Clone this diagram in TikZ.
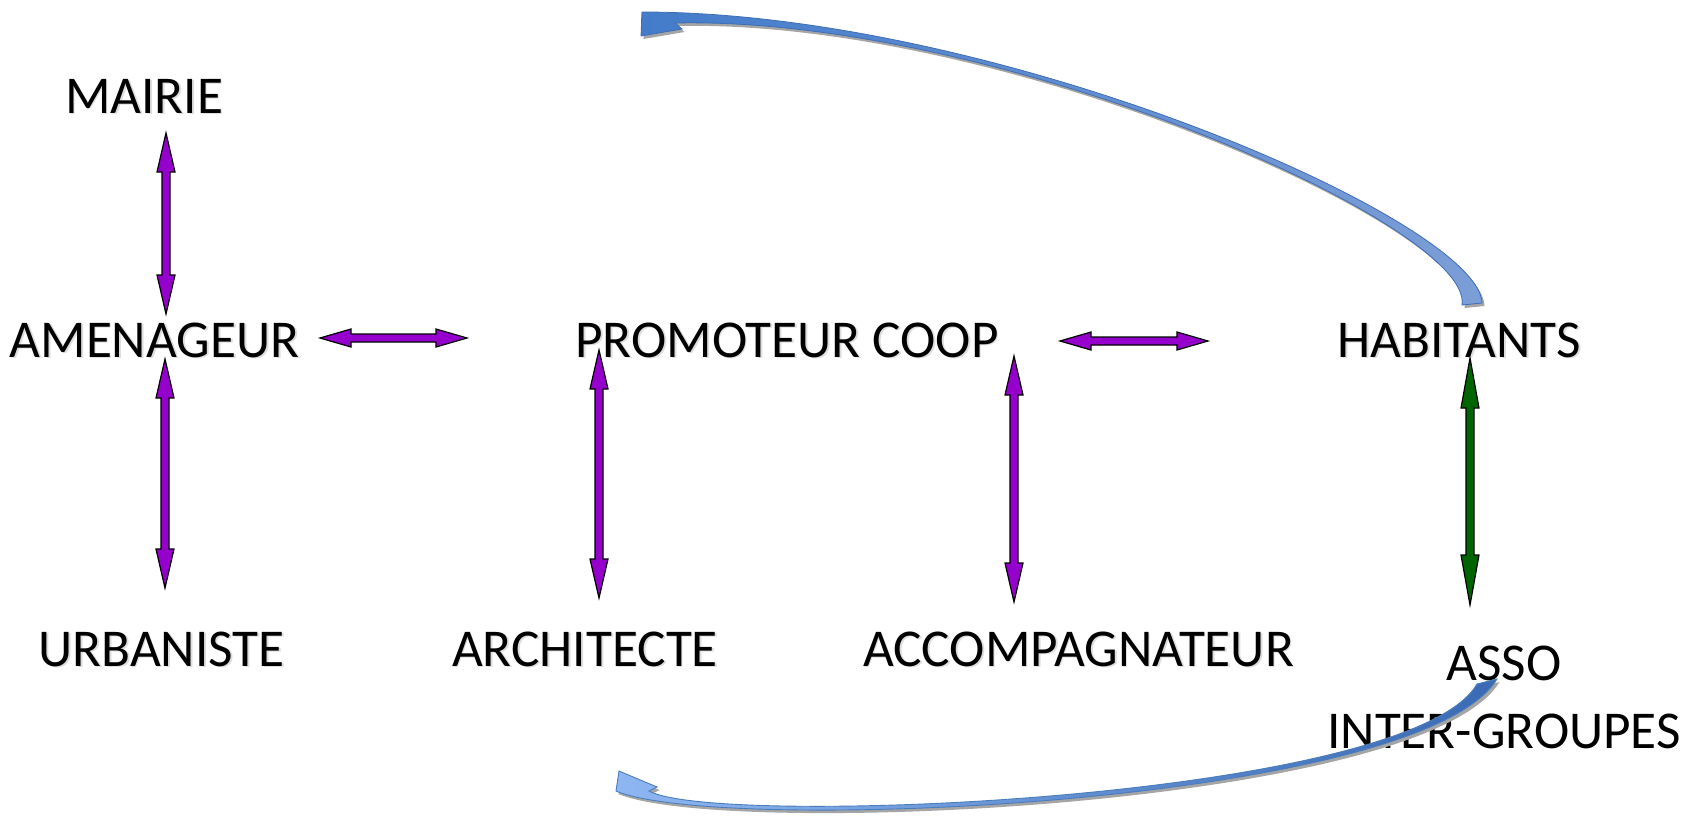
\documentclass[tikz,border=0pt]{standalone}
\usepackage{fontspec}
\setmainfont{Carlito}
\usetikzlibrary{calc}

\definecolor{violetfill}{RGB}{150,0,205}
\definecolor{greenfill}{RGB}{0,100,0}
\definecolor{topleft}{RGB}{68,124,202}
\definecolor{topright}{RGB}{124,158,215}
\definecolor{topedge}{RGB}{62,110,182}
\definecolor{skyfill}{RGB}{142,182,242}
\definecolor{skymid}{RGB}{100,146,220}
\definecolor{skydark}{RGB}{58,106,180}
\definecolor{skyedge}{RGB}{74,126,187}
\definecolor{shadowgray}{RGB}{165,165,165}

% text with a soft offset shadow behind it
\newcommand{\shadowtext}[1]{\makebox[0pt][l]{\hspace{1.8pt}\raisebox{-1.8pt}{\textcolor{black!13}{#1}}}#1}

\tikzset{
  actor/.style={font=\fontsize{53.2}{68}\selectfont, inner sep=0pt, anchor=base, align=center},
  fa head/.store in=\fahead,
  fa head=39pt,
  % outlined double-headed block arrow between two points
  fat arrow/.style={draw=black, line width=1.2pt, line join=miter, fill=#1,
    to path={
      -- ($(\tikztostart)!\fahead!(\tikztotarget)!9pt!90:(\tikztotarget)$)
      -- ($(\tikztostart)!\fahead!(\tikztotarget)!4pt!90:(\tikztotarget)$)
      -- ($(\tikztotarget)!\fahead!(\tikztostart)!4pt!-90:(\tikztostart)$)
      -- ($(\tikztotarget)!\fahead!(\tikztostart)!9pt!-90:(\tikztostart)$)
      -- (\tikztotarget)
      -- ($(\tikztotarget)!\fahead!(\tikztostart)!9pt!90:(\tikztostart)$)
      -- ($(\tikztotarget)!\fahead!(\tikztostart)!4pt!90:(\tikztostart)$)
      -- ($(\tikztostart)!\fahead!(\tikztotarget)!4pt!-90:(\tikztotarget)$)
      -- ($(\tikztostart)!\fahead!(\tikztotarget)!9pt!-90:(\tikztotarget)$)
      -- cycle
    }},
}

% outlines of the two sweeping return arrows
\def\toparrow{(642,12) .. controls (1000,12) and (1480,222) .. (1482,303)
  -- (1462,305) .. controls (1474,226) and (1000,16) .. (675,23)
  -- (682,29) -- (641,36) -- cycle}
\def\bottomarrow{(616,791) .. controls (720,835) and (1420,805) .. (1497,679)
  -- (1477,684) .. controls (1410,800) and (716,828) .. (649,791)
  -- (657,787) -- (619,771) -- cycle}

\begin{document}
\begin{tikzpicture}[x=1pt, y=-1pt]
  \path[use as bounding box, fill=white] (0,0) rectangle (1691,822);

  % actors
  \node[actor] (mairie)    at (144,113)    {\shadowtext{MAIRIE}};
  \node[actor] (amenageur) at (154.5,357)  {\shadowtext{AMENAGEUR}};
  \node[actor] (promoteur) at (787,357)    {\shadowtext{PROMOTEUR COOP}};
  \node[actor] (habitants) at (1459,357)   {\shadowtext{HABITANTS}};
  \node[actor] (urbaniste) at (161.5,666)  {\shadowtext{URBANISTE}};
  \node[actor] (architecte) at (585,666)   {\shadowtext{ARCHITECTE}};
  \node[actor] (accomp)    at (1078.5,666) {\shadowtext{ACCOMPAGNATEUR}};
  \node[actor] (asso)      at (1504,748)   {ASSO\\INTER-GROUPES};

  % arrow ends
  \coordinate (mA)  at (166,133);  \coordinate (aM)  at (166,314);
  \coordinate (aU)  at (165,359);  \coordinate (uA)  at (165,588);
  \coordinate (aP)  at (320,338);  \coordinate (pA)  at (467,338);
  \coordinate (pAr) at (599,350);  \coordinate (arP) at (599,598);
  \coordinate (pAc) at (1014,356); \coordinate (acP) at (1014,602);
  \coordinate (pH)  at (1060,341); \coordinate (hP)  at (1208,341);
  \coordinate (hAs) at (1470,358); \coordinate (asH) at (1470,605);

  % links between actors
  \draw[fat arrow=violetfill] (mA) to (aM);
  \draw[fat arrow=violetfill] (aU) to (uA);
  \draw[fat arrow=violetfill, fa head=31pt] (aP) to (pA);
  \draw[fat arrow=violetfill] (pAr) to (arP);
  \draw[fat arrow=violetfill] (pAc) to (acP);
  \draw[fat arrow=violetfill, fa head=31pt] (pH) to (hP);
  \draw[fat arrow=greenfill, fa head=50pt] (hAs) to (asH);

  % return arrows with drop shadows
  \fill[shadowgray, shift={(2.5,3)}] \toparrow;
  \shadedraw[left color=topleft, right color=topright, draw=topedge, line width=0.8pt] \toparrow;
  \fill[shadowgray, shift={(2.5,3)}] \bottomarrow;
  \shadedraw[left color=skyfill, middle color=skymid, right color=skydark, draw=skyedge, line width=0.9pt] \bottomarrow;
\end{tikzpicture}
\end{document}
